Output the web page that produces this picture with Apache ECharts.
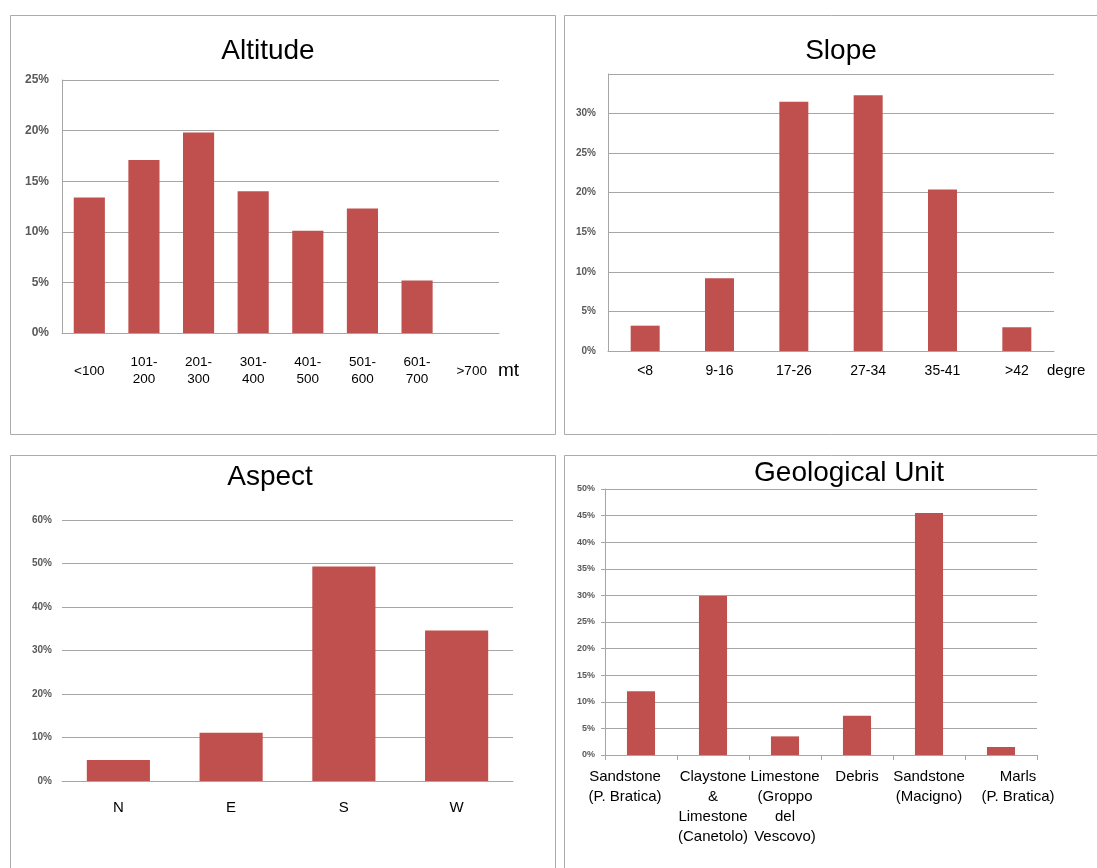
<!DOCTYPE html>
<html><head><meta charset="utf-8">
<script src="https://cdn.jsdelivr.net/npm/echarts/dist/echarts.min.js"></script>
<style>html,body{margin:0;padding:0;background:#fff;overflow:hidden}#c{width:1097px;height:868px}</style>
</head><body><div id="c"></div>
<script>
const altitudeCategories = ['<100','101-\n200','201-\n300','301-\n400','401-\n500','501-\n600','601-\n700','>700'];
const altitudeValues = [13.4,17.1,19.8,14.0,10.1,12.3,5.2,0];
const slopeCategories = ['<8','9-16','17-26','27-34','35-41','>42'];
const slopeValues = [3.2,9.2,31.5,32.3,20.4,3.0];
const aspectCategories = ['N','E','S','W'];
const aspectValues = [4.8,11.1,49.3,34.6];
const geoCategories = ['Sandstone\n(P. Bratica)','Claystone\n&\nLimestone\n(Canetolo)','Limestone\n(Groppo\ndel\nVescovo)','Debris','Sandstone\n(Macigno)','Marls\n(P. Bratica)'];
const geoValues = [12.0,29.9,3.5,7.4,45.5,1.5];
const titles = ['Altitude','Slope','Aspect','Geological Unit'];

const FONT = '"Liberation Sans", Arial, sans-serif';
const BAR = '#C0504D';
const GRID = '#A6A6A6';
const LBL = '#595959';

const chart = echarts.init(document.getElementById('c'), null, {renderer:'canvas'});

function title(text, cx, cy){
  return {text, left:cx, top:cy, textAlign:'center', textVerticalAlign:'middle', padding:0,
    textStyle:{fontFamily:FONT, fontSize:28, fontWeight:'normal', color:'#000'}};
}
function yAx(gi, max, interval, fs, margin, showLine, hideMax, tick){
  return {type:'value', gridIndex:gi, min:0, max, interval,
    axisLine:{show:showLine, lineStyle:{color:GRID}},
    axisTick:{show:!!tick, length:4, lineStyle:{color:GRID}},
    splitLine:{show:true, lineStyle:{color:GRID, width:1}},
    axisLabel:{formatter:'{value}%', fontFamily:FONT, fontSize:fs, fontWeight:'bold', color:LBL, margin, showMaxLabel: !hideMax}};
}
function xAx(gi, data, fs, margin, va, lh, extra){
  return Object.assign({type:'category', gridIndex:gi, data,
    axisLine:{show:true, lineStyle:{color:GRID}},
    axisTick:{show:false},
    axisLabel:{fontFamily:FONT, fontSize:fs, color:'#000', margin, verticalAlign:va, lineHeight:lh, interval:0}}, extra||{});
}
function bar(i, data, w){
  return {type:'bar', xAxisIndex:i, yAxisIndex:i, data, barWidth:w, itemStyle:{color:BAR}, silent:true, animation:false};
}

const geoData = geoCategories.map((c,i)=>{
  if(i===0) return {value:c, textStyle:{padding:[0,32,0,0]}};
  if(i===geoCategories.length-1) return {value:c, textStyle:{padding:[0,0,0,34]}};
  return c;
});

const option = {
  animation:false,
  backgroundColor:'#fff',
  title:[title(titles[0],268,51), title(titles[1],841,51), title(titles[2],270,477), title(titles[3],849,473)],
  grid:[
    {left:62, top:80, width:437, height:253},
    {left:608, top:74, width:446, height:277},
    {left:62, top:520, width:451, height:261},
    {left:605, top:489, width:432, height:266}
  ],
  xAxis:[
    xAx(0, altitudeCategories, 13.5, 38, 'middle', 17, {name:'mt', nameLocation:'end', nameGap:-1,
      nameTextStyle:{fontFamily:FONT, fontSize:19, color:'#000', verticalAlign:'top', lineHeight:76}}),
    xAx(1, slopeCategories, 14, 20, 'middle', 17, {name:'degre', nameLocation:'end', nameGap:-7,
      nameTextStyle:{fontFamily:FONT, fontSize:15, color:'#000', verticalAlign:'top', lineHeight:40}}),
    xAx(2, aspectCategories, 15, 27, 'middle', 18),
    Object.assign(xAx(3, geoData, 15, 12, 'top', 20), {axisTick:{show:true, length:5, lineStyle:{color:GRID}}})
  ],
  yAxis:[
    yAx(0, 25, 5, 12, 13, true, false),
    yAx(1, 35, 5, 10, 12, true, true),
    yAx(2, 60, 10, 10, 10, false, false),
    yAx(3, 50, 5, 9, 10, true, false, true)
  ],
  series:[
    bar(0, altitudeValues, '57%'),
    bar(1, slopeValues, '39%'),
    bar(2, aspectValues, '56%'),
    bar(3, geoValues, '39%')
  ],
  graphic:[
    {type:'rect', shape:{x:10.5,y:15.5,width:545,height:419}, style:{fill:'none', stroke:'#ABABAB', lineWidth:1}, silent:true},
    {type:'rect', shape:{x:564.5,y:15.5,width:545,height:419}, style:{fill:'none', stroke:'#ABABAB', lineWidth:1}, silent:true},
    {type:'rect', shape:{x:10.5,y:455.5,width:545,height:430}, style:{fill:'none', stroke:'#ABABAB', lineWidth:1}, silent:true},
    {type:'rect', shape:{x:564.5,y:455.5,width:545,height:430}, style:{fill:'none', stroke:'#ABABAB', lineWidth:1}, silent:true}
  ]
};
chart.setOption(option);
</script></body></html>
